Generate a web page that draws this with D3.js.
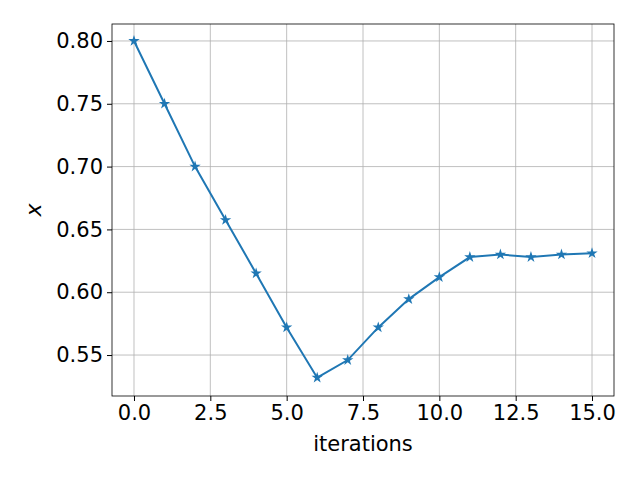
<!DOCTYPE html>
<html><head><meta charset="utf-8">
<script src="https://cdn.jsdelivr.net/npm/d3@7"></script>
<style>body{margin:0;background:#fff}svg{font-family:"DejaVu Sans",sans-serif}</style>
</head><body><svg id="c" width="640" height="480"></svg>
<script>
const iterations = [0,1,2,3,4,5,6,7,8,9,10,11,12,13,14,15];
const xValues = [0.800,0.750,0.700,0.6575,0.615,0.572,0.532,0.546,0.572,0.5945,0.612,0.628,0.630,0.628,0.630,0.631];
const xTicks = [0,2.5,5,7.5,10,12.5,15];
const yTicks = [0.55,0.60,0.65,0.70,0.75,0.80];

const m = {left:112, right:614, top:24, bottom:396};
const svg = d3.select('#c');
const x = d3.scaleLinear().domain([-0.72,15.72]).range([m.left,m.right]);
const y = d3.scaleLinear().domain([0.5174,0.8135]).range([m.bottom,m.top]);

// grid
svg.append('g').selectAll('line').data(xTicks).join('line')
  .attr('x1',d=>x(d)).attr('x2',d=>x(d)).attr('y1',m.top).attr('y2',m.bottom)
  .attr('stroke','#b0b0b0').attr('stroke-width',0.8);
svg.append('g').selectAll('line').data(yTicks).join('line')
  .attr('y1',d=>y(d)).attr('y2',d=>y(d)).attr('x1',m.left).attr('x2',m.right)
  .attr('stroke','#b0b0b0').attr('stroke-width',0.8);

const xa = svg.append('g').attr('transform',`translate(0,${m.bottom})`)
  .call(d3.axisBottom(x).tickValues(xTicks).tickFormat(d3.format('.1f')).tickSize(5).tickPadding(4));
const ya = svg.append('g').attr('transform',`translate(${m.left},0)`)
  .call(d3.axisLeft(y).tickValues(yTicks).tickFormat(d3.format('.2f')).tickSize(5).tickPadding(4));
[xa,ya].forEach(a=>{
  a.select('.domain').remove();
  a.selectAll('text').attr('font-size',21).attr('fill','#000').attr('font-family','DejaVu Sans');
  a.selectAll('line').attr('stroke','#000');
});

svg.append('rect').attr('x',m.left).attr('y',m.top).attr('width',m.right-m.left).attr('height',m.bottom-m.top)
  .attr('fill','none').attr('stroke','#000').attr('stroke-width',0.8);

const data = iterations.map((d,i)=>[d,xValues[i]]);
svg.append('path').datum(data).attr('fill','none').attr('stroke','#1f77b4').attr('stroke-width',2)
  .attr('d',d3.line().x(d=>x(d[0])).y(d=>y(d[1])));
svg.append('g').selectAll('path').data(data).join('path')
  .attr('transform',d=>`translate(${x(d[0])},${y(d[1])})`)
  .attr('d',d3.symbol(d3.symbolStar,40)).attr('fill','#1f77b4');

svg.append('text').attr('x',(m.left+m.right)/2).attr('y',451).attr('text-anchor','middle')
  .attr('font-size',21).text('iterations');
svg.append('text').attr('transform',`translate(41,${(m.top+m.bottom)/2}) rotate(-90)`)
  .attr('text-anchor','middle').attr('font-size',22).attr('font-style','italic').text('x');
</script></body></html>
